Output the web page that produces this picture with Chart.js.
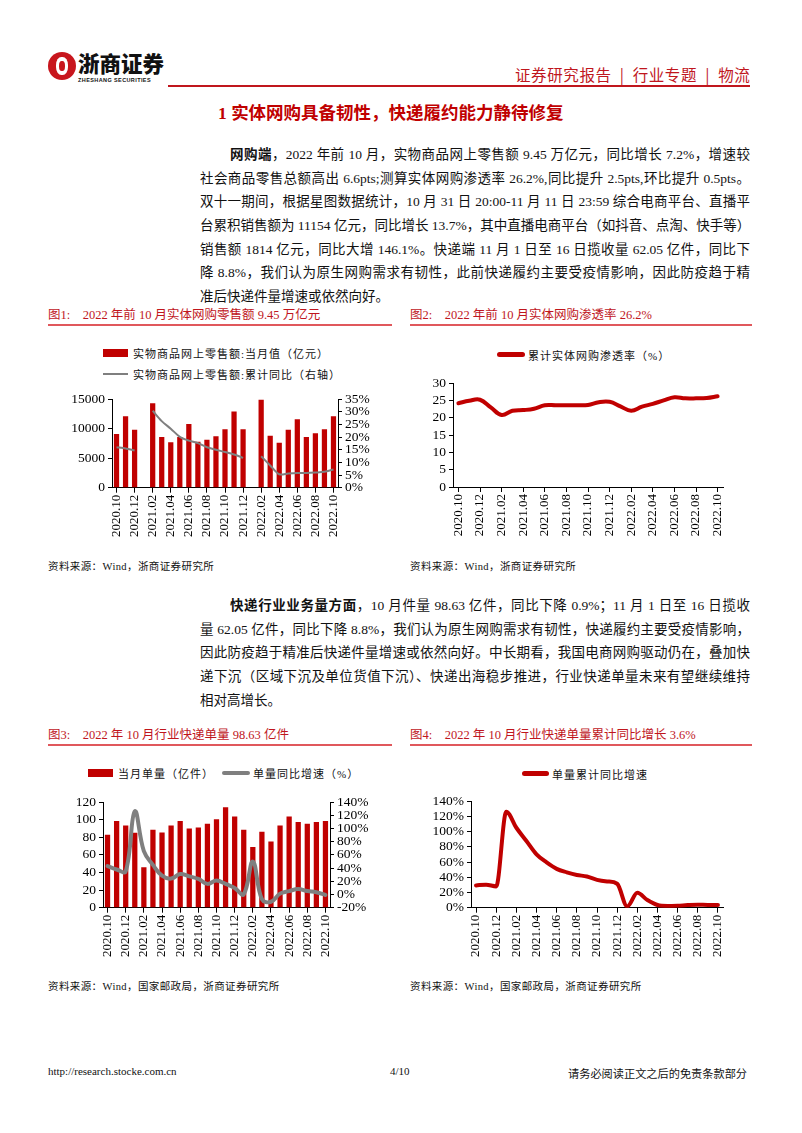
<!DOCTYPE html>
<html><head><meta charset="utf-8">
<script src="https://cdn.jsdelivr.net/npm/chart.js@4.4.0/dist/chart.umd.min.js"></script>
<style>
body{margin:0;background:#fff;width:802px;height:1133px;position:relative;overflow:hidden;font-family:"Liberation Serif","Noto Sans CJK SC",serif;color:#111;}
.a{position:absolute;white-space:nowrap;}
.para{position:absolute;left:200px;width:550px;font-size:13.5px;line-height:23.7px;color:#111;}
.para div{text-align:justify;text-align-last:justify;height:23.7px;overflow:visible;white-space:nowrap;}
.para div.last{text-align-last:left;}
.para div.ind{padding-left:30px;}
.figt{position:absolute;font-size:12.5px;color:#c0161d;white-space:nowrap;}
.figline{position:absolute;height:1.5px;background:#e0585c;}
.src{position:absolute;font-size:10.5px;color:#111;white-space:nowrap;letter-spacing:0.4px;}
.leg{position:absolute;font-size:11px;color:#111;white-space:nowrap;letter-spacing:1px;}
.sw{position:absolute;}
canvas{position:absolute;}
</style>
</head><body>
<!-- header -->
<div class="a" style="left:48px;top:52px;width:28px;height:28px;border-radius:50%;background:#c8161d;"></div>
<div class="a" style="left:56px;top:57px;width:12px;height:18px;border-radius:45%;background:#fff;"></div>
<div class="a" style="left:59px;top:61px;width:6px;height:10px;border-radius:45%;background:#c8161d;"></div>
<div class="a" style="left:78px;top:50px;font-family:'Noto Sans CJK SC';font-weight:900;font-size:21.5px;line-height:26px;color:#111;letter-spacing:0px;">浙商证券</div>
<div class="a" style="left:78px;top:77px;font-family:'Liberation Sans';font-weight:bold;font-size:5.5px;line-height:7px;color:#111;letter-spacing:0.4px;">ZHESHANG SECURITIES</div>
<div class="a" style="left:515px;top:64px;font-family:'Noto Sans CJK SC';font-size:15.5px;line-height:20px;color:#c0161d;letter-spacing:0.6px;">证券研究报告&nbsp;&nbsp;|&nbsp;&nbsp;行业专题&nbsp;&nbsp;|&nbsp;&nbsp;物流</div>
<div class="a" style="left:168px;top:85px;width:582px;height:1.5px;background:#c0161d;"></div>

<div class="a" style="left:218px;top:101px;font-family:'Liberation Serif','Noto Sans CJK SC';font-weight:bold;font-size:17.5px;line-height:24px;color:#c00000;">1 实体网购具备韧性，快递履约能力静待修复</div>

<div class="para" style="top:143px;">
<div class="ind"><b>网购端</b>，2022 年前 10 月，实物商品网上零售额 9.45 万亿元，同比增长 7.2%，增速较</div>
<div>社会商品零售总额高出 6.6pts;测算实体网购渗透率 26.2%,同比提升 2.5pts,环比提升 0.5pts。</div>
<div>双十一期间，根据星图数据统计，10 月 31 日 20:00-11 月 11 日 23:59 综合电商平台、直播平</div>
<div>台累积销售额为 11154 亿元，同比增长 13.7%，其中直播电商平台（如抖音、点淘、快手等）</div>
<div>销售额 1814 亿元，同比大增 146.1%。快递端 11 月 1 日至 16 日揽收量 62.05 亿件，同比下</div>
<div>降 8.8%，我们认为原生网购需求有韧性，此前快递履约主要受疫情影响，因此防疫趋于精</div>
<div class="last">准后快递件量增速或依然向好。</div>
</div>

<div class="figt" style="left:48px;top:304px;">图1:&nbsp;&nbsp;&nbsp;&nbsp;2022 年前 10 月实体网购零售额 9.45 万亿元</div>
<div class="figt" style="left:410px;top:304px;">图2:&nbsp;&nbsp;&nbsp;&nbsp;2022 年前 10 月实体网购渗透率 26.2%</div>
<div class="figline" style="left:48px;top:324px;width:344px;"></div>
<div class="figline" style="left:410px;top:324px;width:342px;"></div>

<!-- legends chart 1 -->
<div class="sw" style="left:103px;top:349px;width:25px;height:8px;background:#c00000;"></div>
<div class="leg" style="left:133px;top:345px;">实物商品网上零售额:当月值（亿元）</div>
<div class="sw" style="left:103px;top:373px;width:25px;height:2px;background:#7f7f7f;"></div>
<div class="leg" style="left:133px;top:366px;">实物商品网上零售额:累计同比（右轴）</div>
<!-- legend chart 2 -->
<div class="sw" style="left:497px;top:352px;width:28px;height:5px;border-radius:3px;background:#c00000;"></div>
<div class="leg" style="left:528px;top:347px;">累计实体网购渗透率（%）</div>

<canvas id="c1" width="344" height="167" style="left:48px;top:388px;"></canvas>
<canvas id="c2" width="360" height="183" style="left:400px;top:372px;"></canvas>

<div class="src" style="left:48px;top:558px;">资料来源：Wind，浙商证券研究所</div>
<div class="src" style="left:410px;top:558px;">资料来源：Wind，浙商证券研究所</div>

<div class="para" style="top:594px;">
<div class="ind"><b>快递行业业务量方面</b>，10 月件量 98.63 亿件，同比下降 0.9%；11 月 1 日至 16 日揽收</div>
<div>量 62.05 亿件，同比下降 8.8%，我们认为原生网购需求有韧性，快递履约主要受疫情影响，</div>
<div>因此防疫趋于精准后快递件量增速或依然向好。中长期看，我国电商网购驱动仍在，叠加快</div>
<div>递下沉（区域下沉及单位货值下沉）、快递出海稳步推进，行业快递单量未来有望继续维持</div>
<div class="last">相对高增长。</div>
</div>

<div class="figt" style="left:48px;top:724px;">图3:&nbsp;&nbsp;&nbsp;&nbsp;2022 年 10 月行业快递单量 98.63 亿件</div>
<div class="figt" style="left:410px;top:724px;">图4:&nbsp;&nbsp;&nbsp;&nbsp;2022 年 10 月行业快递单量累计同比增长 3.6%</div>
<div class="figline" style="left:48px;top:744px;width:344px;"></div>
<div class="figline" style="left:410px;top:744px;width:342px;"></div>

<!-- legend chart 3 -->
<div class="sw" style="left:88px;top:769px;width:25px;height:8px;background:#c00000;"></div>
<div class="leg" style="left:118px;top:765px;">当月单量（亿件）</div>
<div class="sw" style="left:222px;top:771px;width:28px;height:4px;border-radius:2px;background:#7f7f7f;"></div>
<div class="leg" style="left:253px;top:765px;">单量同比增速（%）</div>
<!-- legend chart 4 -->
<div class="sw" style="left:522px;top:771px;width:27px;height:5px;border-radius:3px;background:#c00000;"></div>
<div class="leg" style="left:552px;top:766px;">单量累计同比增速</div>

<canvas id="c3" width="344" height="184" style="left:48px;top:791px;"></canvas>
<canvas id="c4" width="360" height="185" style="left:400px;top:790px;"></canvas>

<div class="src" style="left:48px;top:978px;">资料来源：Wind，国家邮政局，浙商证券研究所</div>
<div class="src" style="left:410px;top:978px;">资料来源：Wind，国家邮政局，浙商证券研究所</div>

<!-- footer -->
<div class="a" style="left:48px;top:1065px;font-size:11px;color:#111;">http://research.stocke.com.cn</div>
<div class="a" style="left:390px;top:1065px;font-size:11px;color:#111;">4/10</div>
<div class="a" style="left:568px;top:1065px;font-size:11.2px;color:#111;">请务必阅读正文之后的免责条款部分</div>

<script>
// ---- data ----
const months = ['2020.10','2020.11','2020.12','2021.01','2021.02','2021.03','2021.04','2021.05','2021.06','2021.07','2021.08','2021.09','2021.10','2021.11','2021.12','2022.01','2022.02','2022.03','2022.04','2022.05','2022.06','2022.07','2022.08','2022.09','2022.10'];
const retailMonthly = [9100,12100,9800,null,14300,8600,7700,8600,10800,7800,8100,8700,9900,12900,9900,null,14900,8800,7600,9800,11600,8600,9200,9900,12100];
const retailCumYoY = [16.0,15.5,14.7,null,30.4,26.3,23.3,20.1,18.6,17.6,16.0,15.0,14.1,13.1,11.8,null,12.4,8.8,5.3,5.6,5.8,5.8,6.0,6.3,7.2];
const penetration = [24.2,24.9,25.2,23.0,20.8,22.0,22.2,22.6,23.6,23.6,23.6,23.6,23.7,24.5,24.6,23.3,22.0,23.2,24.0,25.0,25.9,25.6,25.6,25.7,26.2];
const parcelMonthly = [83,98.5,93.3,85.1,46.1,88.5,85.5,93.3,98.5,90.0,91.1,95.5,100.4,114.1,103.7,88.5,69.1,86.2,75.1,93.3,103.7,97.4,95.5,97.4,98.63];
const parcelYoY = [42.9,37.9,35.0,126,65.6,44.9,28.5,24.1,31.0,27.5,23.6,16.1,21.1,16.1,9.7,0.3,49.8,-7.1,-11,1.3,5.2,8.2,5.2,3.3,-0.7];
const parcelCumYoY = [29.3,30.2,28.0,126,105,87.5,70,59.5,51,46.5,43,41,36.6,34.5,31.5,1.5,19.5,10,3.5,2.2,2.6,3.4,3.9,3.6,3.6];
const xTickLabels = months.map((m,i)=> i%2===0 ? m : '');

// ---- style helpers ----
const RED = '#c00000', GRAY = '#7f7f7f';
const tickFont = {family:"'Liberation Serif','Times New Roman',serif", size:13};
const yFont = {family:"'Liberation Serif','Times New Roman',serif", size:13.5};
function yAxis(pos, min, max, step, width, fmt){
  return {
    position: pos, min, max,
    ticks: {stepSize: step, autoSkip:false, color:'#000', font: yFont, padding: 3, callback: fmt || (v=>v)},
    grid: {drawOnChartArea:false, drawTicks:true, tickLength:4, color:'#000'},
    border: {display:true, color:'#000', width:1},
    afterFit(s){ s.width = width; }
  };
}
function xAxis(height){
  return {
    offset: true,
    ticks: {autoSkip:false, maxRotation:90, minRotation:90, color:'#000', font: tickFont, padding:2,
      callback:(v,i)=> xTickLabels[i]},
    grid: {offset:false, drawOnChartArea:false, drawTicks:true, tickLength:5,
      color:(c)=> (c.index % 2 === 0) ? '#000' : 'rgba(0,0,0,0)'},
    border: {display:true, color:'#000', width:1},
    afterFit(s){ s.height = height; }
  };
}
const base = {responsive:false, animation:false, devicePixelRatio:1,
  plugins:{legend:{display:false}, tooltip:{enabled:false}}};
const pct = v => v + '%';

// Chart 1
new Chart(document.getElementById('c1'), {
  data: {labels: months, datasets: [
    {type:'line', data: retailCumYoY, yAxisID:'y1', borderColor: GRAY, borderWidth:2, pointRadius:0, tension:0.3, spanGaps:false, order:0},
    {type:'bar', data: retailMonthly, yAxisID:'y', backgroundColor: RED, barPercentage:0.58, categoryPercentage:1, order:1}
  ]},
  options: Object.assign({}, base, {
    layout:{padding:{top:10,left:0,right:0,bottom:0}},
    scales: {x: xAxis(67.3), y: yAxis('left',0,15000,5000,64), y1: yAxis('right',0,35,5,54,pct)}
  })
});

// Chart 2
new Chart(document.getElementById('c2'), {
  type:'line',
  data: {labels: months, datasets: [
    {data: penetration, borderColor: RED, borderWidth:4, pointRadius:0, tension:0.4, borderCapStyle:'round'}
  ]},
  options: Object.assign({}, base, {
    layout:{padding:{top:9,left:0,right:37,bottom:0}},
    scales: {x: xAxis(68), y: yAxis('left',0,30,5,53)}
  })
});

// Chart 3
new Chart(document.getElementById('c3'), {
  data: {labels: months, datasets: [
    {type:'line', data: parcelYoY, yAxisID:'y1', borderColor: GRAY, borderWidth:4, pointRadius:0, tension:0.4, borderCapStyle:'round', order:0},
    {type:'bar', data: parcelMonthly, yAxisID:'y', backgroundColor: RED, barPercentage:0.58, categoryPercentage:1, order:1}
  ]},
  options: Object.assign({}, base, {
    layout:{padding:{top:9,left:0,right:0,bottom:0}},
    scales: {x: xAxis(67.3), y: yAxis('left',0,120,20,55), y1: yAxis('right',-20,140,20,62,pct)}
  })
});

// Chart 4
new Chart(document.getElementById('c4'), {
  type:'line',
  data: {labels: months, datasets: [
    {data: parcelCumYoY, borderColor: RED, borderWidth:4, pointRadius:0, cubicInterpolationMode:'monotone', borderCapStyle:'round'}
  ]},
  options: Object.assign({}, base, {
    layout:{padding:{top:9,left:0,right:37,bottom:0}},
    scales: {x: xAxis(67.3), y: yAxis('left',0,140,20,71,pct)}
  })
});
</script>
</body></html>
